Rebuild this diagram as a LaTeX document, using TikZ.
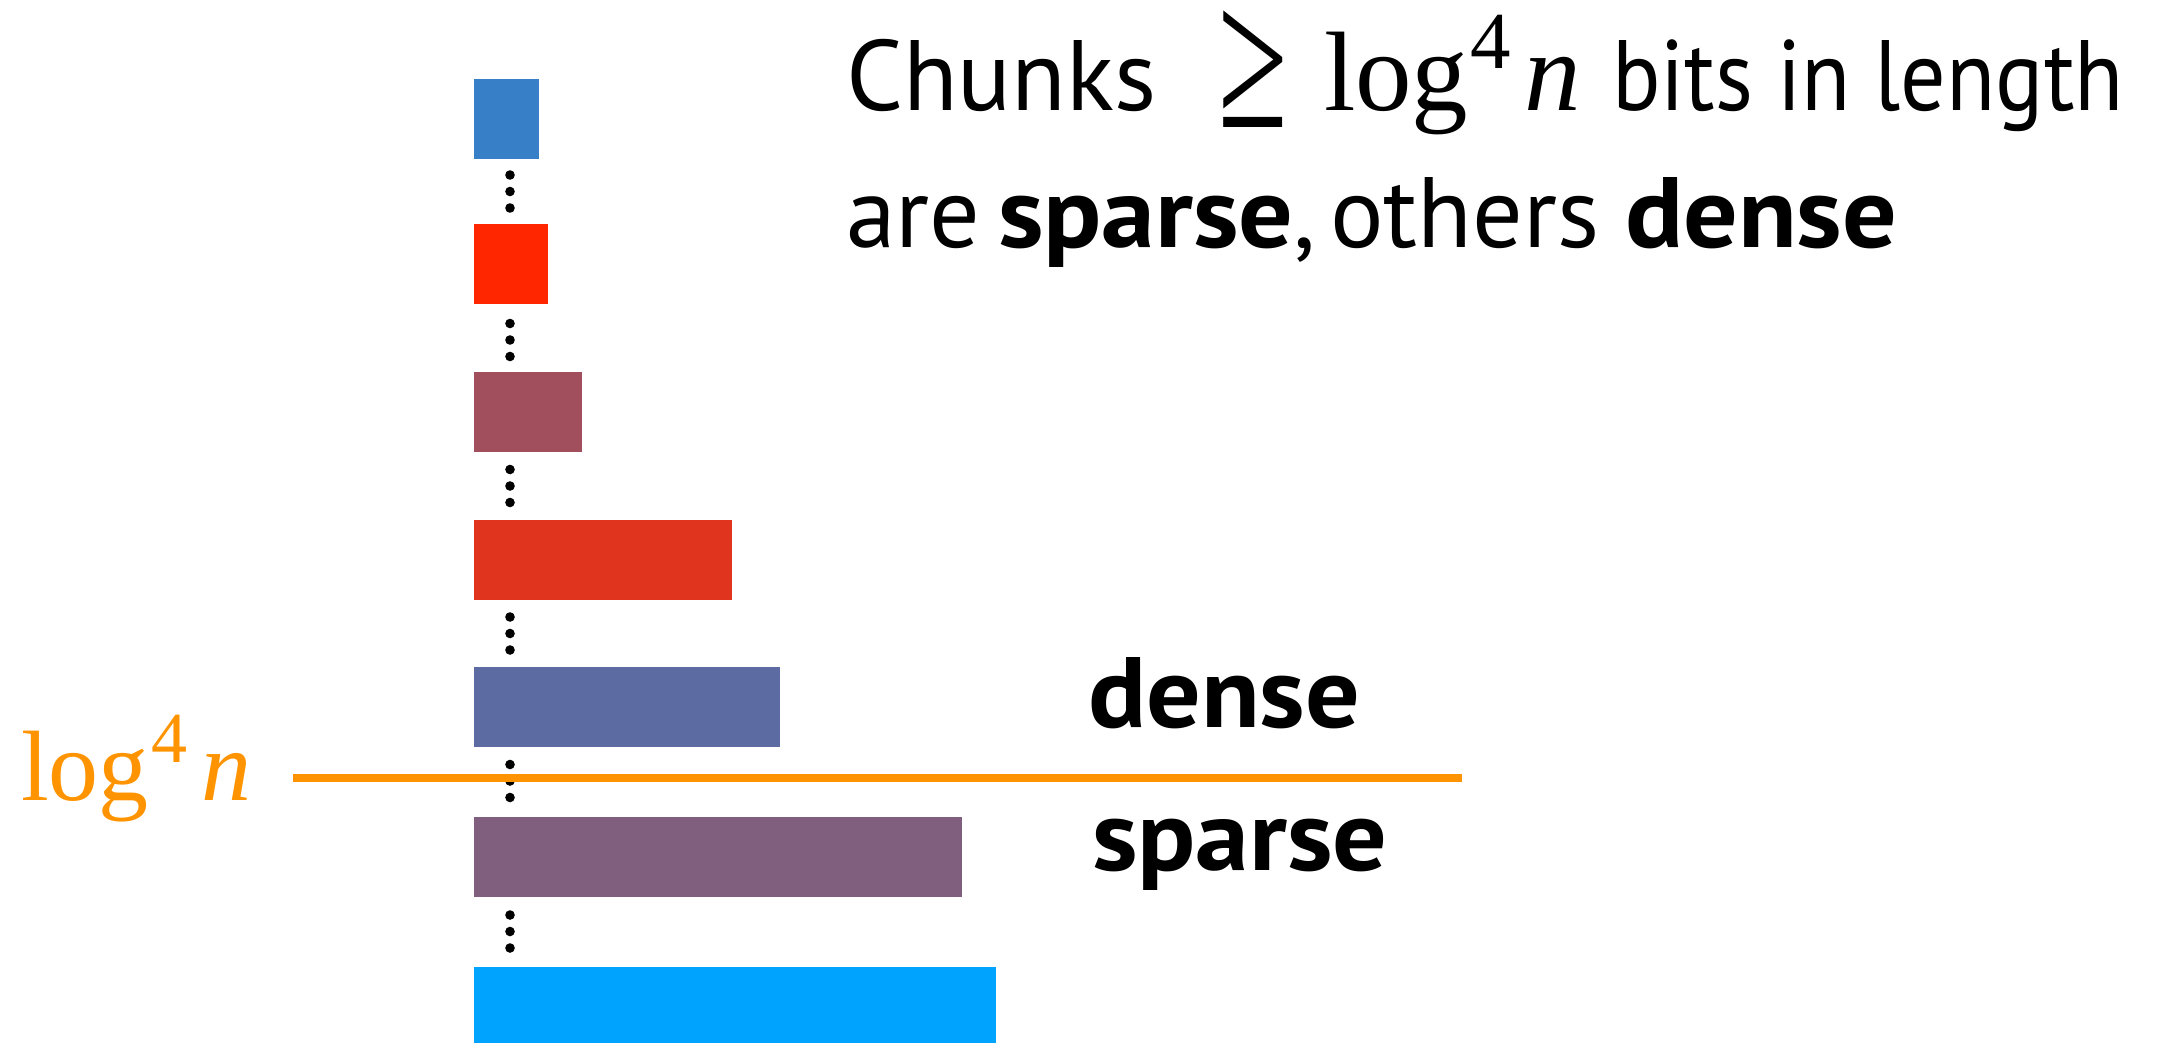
\documentclass[tikz,border=0pt]{standalone}
\usepackage{fontspec}
\setmainfont{PT Sans}[BoldFeatures={FakeStretch=1.08}]
\newfontfamily\narrowsans{PT Sans}[FakeStretch=0.9]
\newfontfamily\tms{Liberation Serif}
\definecolor{cA}{HTML}{377FC7}
\definecolor{cB}{HTML}{FF2600}
\definecolor{cC}{HTML}{A14F5C}
\definecolor{cD}{HTML}{E0341F}
\definecolor{cE}{HTML}{5C6BA2}
\definecolor{cF}{HTML}{805F7E}
\definecolor{cG}{HTML}{00A4FF}
\definecolor{cut}{HTML}{FF9400}
\tikzset{
  bar/.style={anchor=north west, inner sep=0pt, outer sep=0pt, minimum height=80pt},
  txt/.style={anchor=base west, inner sep=0pt, outer sep=0pt},
  dotmark/.style={fill=black},
}
\newcommand{\bodyfont}{\fontsize{100}{120}\selectfont}
\begin{document}
\begin{tikzpicture}[x=1pt,y=-1pt]
\useasboundingbox (0,0) rectangle (2173,1042);
% chunks, shortest at the top
\node[bar, fill=cA, minimum width=65pt]  (b1) at (474,79)  {};
\node[bar, fill=cB, minimum width=74pt]  (b2) at (474,224) {};
\node[bar, fill=cC, minimum width=108pt] (b3) at (474,372) {};
\node[bar, fill=cD, minimum width=258pt] (b4) at (474,520) {};
\node[bar, fill=cE, minimum width=306pt] (b5) at (474,667) {};
\node[bar, fill=cF, minimum width=488pt] (b6) at (474,817) {};
\node[bar, fill=cG, minimum width=522pt] (b7) at (474,967) {};
% vertical ellipses between chunks
\foreach \c in {191.5,340,486,633.5,781,931.5}{
  \foreach \d in {-16.5,0,16.5}{
    \fill[dotmark] (510,\c+\d) circle (4.8);
  }
}
% threshold line
\coordinate (L0) at (293,778);
\coordinate (L1) at (1462,778);
\draw[cut, line width=8.5pt] (L0) -- (L1);
% threshold label
\node[txt, text=cut] (ll) at (21,800) {\tms\fontsize{100}{120}\selectfont log};
\node[txt, text=cut] (l4) at (151,762) {\tms\fontsize{72}{80}\selectfont 4};
\node[txt, text=cut] (ln) at (201,800) {\tms\itshape\fontsize{100}{120}\selectfont n};
% region labels
\node[txt] (dn) at (1088,727) {\bodyfont\bfseries dense};
\node[txt] (sp) at (1092,870) {\bodyfont\bfseries sparse};
% heading, first line
\node[txt] (h1) at (846,110) {\bodyfont Chunks};
\node[inner sep=0pt] (hg) at (1253,69) {\scalebox{1.12}[1.8]{\tms\fontsize{113}{120}\selectfont ≥}};
\node[txt] (hl) at (1324,110) {\tms\fontsize{113}{120}\selectfont log};
\node[txt] (h4) at (1470,68) {\tms\fontsize{81}{90}\selectfont 4};
\node[txt] (hn) at (1524,110) {\tms\itshape\fontsize{113}{120}\selectfont n};
\node[txt] (hb) at (1612,110) {\narrowsans\bodyfont bits in length};
% heading, second line
\node[txt] (h2a) at (846,247)  {\bodyfont are};
\node[txt] (h2b) at (998,247)  {\bodyfont\bfseries sparse\mdseries,};
\node[txt] (h2c) at (1330,247) {\bodyfont others};
\node[txt] (h2d) at (1625,247) {\bodyfont\bfseries dense};
\end{tikzpicture}
\end{document}
